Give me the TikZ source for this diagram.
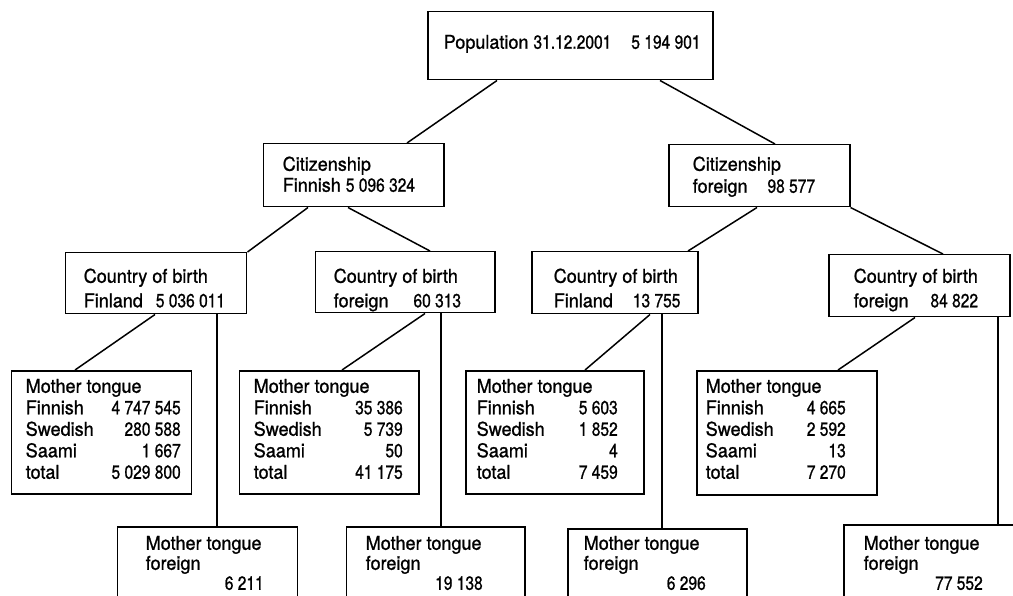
\documentclass[tikz,border=0pt]{standalone}
\usepackage{fontspec}
\setmainfont{TeX Gyre Heros}[FakeStretch=0.95,FakeBold=1]
\newfontfamily\numfont{TeX Gyre Heros}[FakeStretch=0.82,FakeBold=1]
\usetikzlibrary{calc}
\newdimen\px \px=0.02cm
\newcommand\nm[1]{{\numfont#1}}
% w, h, left pad, right pad, first baseline, line skip, lines
\newcommand\boxtext[7]{\begin{minipage}[t][#2\px][t]{#1\px}\leftskip=#3\px\rightskip=#4\px
  \baselineskip=#6\px\vspace*{\dimexpr#5\px-15\px}\rule{0pt}{15\px}#7\end{minipage}}

\begin{document}
\begin{tikzpicture}[x=0.02cm,y=-0.02cm,line width=0.85pt,
  bx/.style={draw,inner sep=0pt,anchor=north west},
  every node/.style={font=\fontsize{10.8pt}{13pt}\selectfont}]
\path[use as bounding box] (0,0) rectangle (1013,595);
\clip (0,0) rectangle (1013,595);

\node[bx] (T) at (427,11) {\boxtext{285}{68}{16}{0}{37}{20}{Population \nm{31.12.2001}\hspace{20\px}\nm{5 194 901}}};

\node[bx] (C1) at (263,143) {\boxtext{180}{63}{19}{0}{27}{21}{Citizenship\\Finnish \nm{5 096 324}}};
\node[bx] (C2) at (668,144) {\boxtext{181}{62}{24}{0}{26}{22}{Citizenship\\foreign\hspace{20\px}\nm{98 577}}};

\node[bx] (B1) at (65,252) {\boxtext{181}{61}{18}{0}{30}{24.5}{Country of birth\\Finland\hspace{13\px}\nm{5 036 011}}};
\node[bx] (B2) at (315,251) {\boxtext{179}{61}{18}{0}{31}{24.5}{Country of birth\\foreign\hspace{25\px}\nm{60 313}}};
\node[bx] (B3) at (531,251) {\boxtext{166}{62}{22}{0}{31}{24.5}{Country of birth\\Finland\hspace{20\px}\nm{13 755}}};
\node[bx] (B4) at (828,254) {\boxtext{181}{62}{25}{0}{28}{24.5}{Country of birth\\foreign\hspace{22\px}\nm{84 822}}};

\node[bx] (M1) at (11,370) {\boxtext{180}{123}{14}{11}{22}{21.5}{Mother tongue\\Finnish\hfill\nm{4 747 545}\\Swedish\hfill\nm{280 588}\\Saami\hfill\nm{1 667}\\total\hfill\nm{5 029 800}}};
\node[bx] (M2) at (239,370) {\boxtext{179}{123}{14}{16}{22}{21.5}{Mother tongue\\Finnish\hfill\nm{35 386}\\Swedish\hfill\nm{5 739}\\Saami\hfill\nm{50}\\total\hfill\nm{41 175}}};
\node[bx] (M3) at (465,370) {\boxtext{178}{123}{11}{26}{22}{21.5}{Mother tongue\\Finnish\hfill\nm{5 603}\\Swedish\hfill\nm{1 852}\\Saami\hfill\nm{4}\\total\hfill\nm{7 459}}};
\node[bx] (M4) at (696,370) {\boxtext{180}{124}{9}{31}{22}{21.5}{Mother tongue\\Finnish\hfill\nm{4 665}\\Swedish\hfill\nm{2 592}\\Saami\hfill\nm{13}\\total\hfill\nm{7 270}}};

\node[bx] (F1) at (117,526) {\boxtext{180}{80}{28}{34}{23}{20}{Mother tongue\\foreign\\\hspace*{\fill}\nm{6 211}}};
\node[bx] (F2) at (346,526) {\boxtext{178}{80}{19}{42}{23}{20}{Mother tongue\\foreign\\\hspace*{\fill}\nm{19 138}}};
\node[bx] (F3) at (567,528) {\boxtext{179}{80}{16}{41}{21}{20}{Mother tongue\\foreign\\\hspace*{\fill}\nm{6 296}}};
\node[bx] (F4) at (843,524) {\boxtext{180}{80}{20}{41}{25}{20}{Mother tongue\\foreign\\\hspace*{\fill}\nm{77 552}}};

\draw ($(T.south west)+(70,0)$) -- ($(C1.north west)+(144,0)$);
\draw ($(T.south west)+(233,0)$) -- ($(C2.north west)+(107,0)$);
\draw ($(C1.south west)+(45,0)$) -- (B1.north east);
\draw ($(C1.south west)+(85,0)$) -- ($(B2.north west)+(115,0)$);
\draw ($(C2.south west)+(89,0)$) -- ($(B3.north west)+(157,0)$);
\draw (C2.south east) -- ($(B4.north west)+(115,0)$);
\draw ($(B1.south west)+(90,0)$) -- ($(M1.north west)+(64,0)$);
\draw ($(B1.south west)+(152,0)$) -- ($(F1.north west)+(100,0)$);
\draw ($(B2.south west)+(110,0)$) -- ($(M2.north west)+(103,0)$);
\draw ($(B2.south west)+(126,0)$) -- ($(F2.north west)+(95,0)$);
\draw ($(B3.south west)+(119,0)$) -- ($(M3.north west)+(120,0)$);
\draw ($(B3.south west)+(131,0)$) -- ($(F3.north west)+(95,0)$);
\draw ($(B4.south west)+(87,0)$) -- ($(M4.north west)+(142,0)$);
\draw ($(B4.south west)+(170,0)$) -- ($(F4.north west)+(155,0)$);
\end{tikzpicture}
\end{document}
